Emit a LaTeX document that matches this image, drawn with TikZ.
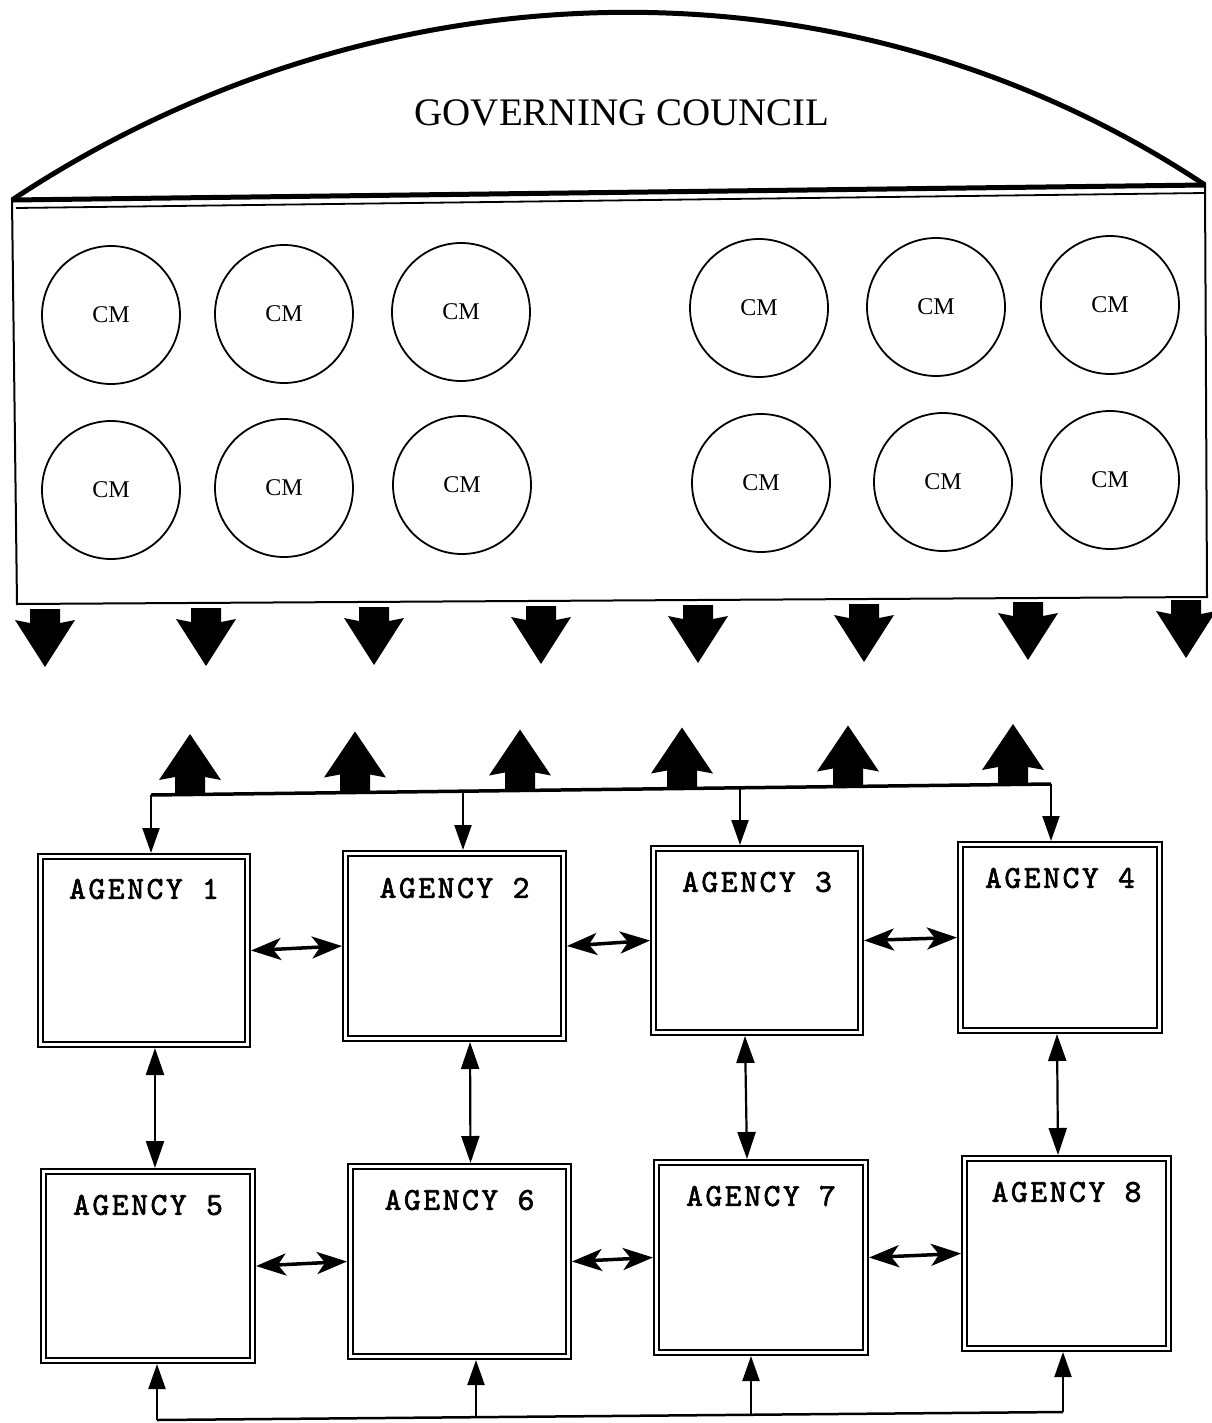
\documentclass[tikz,border=0pt]{standalone}
\usepackage{fontspec}
\setmainfont{Liberation Serif}
\newfontfamily\agfont[Extension=.otf,FakeBold=2,LetterSpace=8]{lmmono10-regular}
\usetikzlibrary{arrows.meta,calc}
\begin{document}
\begin{tikzpicture}[x=1pt,y=-1pt,
  cmnode/.style={circle, draw, line width=1.8pt, minimum size=138pt, inner sep=0pt,
             font=\fontsize{24}{26}\selectfont},
  agency/.style={draw, line width=1.8pt, double=white, double distance=3pt,
                 inner sep=0pt, outer sep=3.3pt},
  agtext/.style={font=\agfont\fontsize{32}{34}\selectfont},
  bus/.style={line width=3.5pt},
  busarrow/.style={line width=2.2pt, -{Triangle[length=25pt,width=17pt]}},
  hdbl/.style={line width=3.5pt,
     {Stealth[length=30pt,width=22pt,inset=8pt]}-{Stealth[length=30pt,width=22pt,inset=8pt]}},
  vdbl/.style={line width=2.2pt,
     {Triangle[length=27pt,width=18pt]}-{Triangle[length=27pt,width=18pt]}},
  bigdown/.pic={\fill (-15,0) -- (15,0) -- (15,14) -- (30,11) -- (0,58) -- (-30,11) -- (-15,14) -- cycle;},
  bigup/.pic={\fill (-15,0) -- (-15,-18) -- (-31,-15) -- (0,-61) -- (31,-15) -- (15,-18) -- (15,0) -- cycle;}
]
\useasboundingbox (0,0) rectangle (1211,1423);

% governing council dome
\draw[line width=5pt, line join=round] (12,200) .. controls (373,-40) and (844,-55) .. (1205,185);
\node[font=\fontsize{39}{42}\selectfont] (gov) at (622,113) {GOVERNING COUNCIL};

% council body
\draw[line width=2pt] (12,200) -- (1205,185) -- (1207,597) -- (17,604) -- cycle;
\draw[line width=5pt] (12,200) -- (1205,185);
\draw[line width=1.8pt] (16,208) -- (1205,193);

% council members
\node[cmnode] (m1) at (111,315) {CM};
\node[cmnode] (m2) at (284,314) {CM};
\node[cmnode] (m3) at (461,312) {CM};
\node[cmnode] (m4) at (759,308) {CM};
\node[cmnode] (m5) at (936,307) {CM};
\node[cmnode] (m6) at (1110,305) {CM};
\node[cmnode] (m7) at (111,490) {CM};
\node[cmnode] (m8) at (284,488) {CM};
\node[cmnode] (m9) at (462,485) {CM};
\node[cmnode] (m10) at (761,483) {CM};
\node[cmnode] (m11) at (943,482) {CM};
\node[cmnode] (m12) at (1110,480) {CM};

% big downward arrows
\foreach \x/\y in {45/609,206/608,374/607,541/606,698/605,864/604,1028/602,1186/600}
  \pic at (\x,\y) {bigdown};

% agencies
\node[agency, minimum width=207.4pt, minimum height=188.4pt] (a1) at (144,950.5) {};
\node[agency, minimum width=218.4pt, minimum height=185.4pt] (a2) at (454.5,946) {};
\node[agency, minimum width=207.4pt, minimum height=184.4pt] (a3) at (757,940.5) {};
\node[agency, minimum width=199.4pt, minimum height=186.4pt] (a4) at (1060,937.5) {};
\node[agency, minimum width=209.4pt, minimum height=189.4pt] (a5) at (148,1266) {};
\node[agency, minimum width=218.4pt, minimum height=190.4pt] (a6) at (459.5,1261.5) {};
\node[agency, minimum width=209.4pt, minimum height=190.4pt] (a7) at (761,1257.5) {};
\node[agency, minimum width=204.4pt, minimum height=190.4pt] (a8) at (1066.5,1253.5) {};

\node[agtext] (t1) at ([yshift=-36pt]a1.north) {AGENCY 1};
\node[agtext] (t2) at ([yshift=-38pt]a2.north) {AGENCY 2};
\node[agtext] (t3) at ([yshift=-37pt]a3.north) {AGENCY 3};
\node[agtext] (t4) at ([yshift=-37pt]a4.north) {AGENCY 4};
\node[agtext] (t5) at ([yshift=-37pt]a5.north) {AGENCY 5};
\node[agtext] (t6) at ([yshift=-37pt]a6.north) {AGENCY 6};
\node[agtext] (t7) at ([yshift=-37pt]a7.north) {AGENCY 7};
\node[agtext] (t8) at ([yshift=-37pt]a8.north) {AGENCY 8};

% upper bus
\coordinate (b1) at (151,795);
\coordinate (b2) at (463,791);
\coordinate (b3) at (740,788);
\coordinate (b4) at (1051,784);
\draw[bus] (b1) -- (b4);
\draw[busarrow] (b1) -- (b1 |- a1.north);
\draw[busarrow] (b2) -- (b2 |- a2.north);
\draw[busarrow] (b3) -- (b3 |- a3.north);
\draw[busarrow] (b4) -- (b4 |- a4.north);

% big upward arrows
\foreach \x/\y in {190/795,355/792.5,520/790.5,682/788.5,848/786.5,1013/785}
  \pic at (\x,\y) {bigup};

% horizontal links
\draw[hdbl] (a1.east) -- (a2.west);
\draw[hdbl] (a2.east) -- (a3.west);
\draw[hdbl] (a3.east) -- (a4.west);
\draw[hdbl] (a5.east) -- (a6.west);
\draw[hdbl] (a6.east) -- (a7.west);
\draw[hdbl] (a7.east) -- (a8.west);

% vertical links
\draw[vdbl] ([xshift=11pt]a1.south) -- ([xshift=7pt]a5.north);
\draw[vdbl] ([xshift=15.5pt]a2.south) -- ([xshift=11pt]a6.north);
\draw[vdbl] ([xshift=-12pt]a3.south) -- ([xshift=-14pt]a7.north);
\draw[vdbl] ([xshift=-3pt]a4.south) -- ([xshift=-8.5pt]a8.north);

% lower bus
\coordinate (c5) at (157,1420);
\coordinate (c6) at (476,1418);
\coordinate (c7) at (751,1415);
\coordinate (c8) at (1063,1412);
\draw[line width=2.5pt] (c5) -- (c8);
\draw[busarrow] (c5) -- (c5 |- a5.south);
\draw[busarrow] (c6) -- (c6 |- a6.south);
\draw[busarrow] (c7) -- (c7 |- a7.south);
\draw[busarrow] (c8) -- (c8 |- a8.south);
\end{tikzpicture}
\end{document}
